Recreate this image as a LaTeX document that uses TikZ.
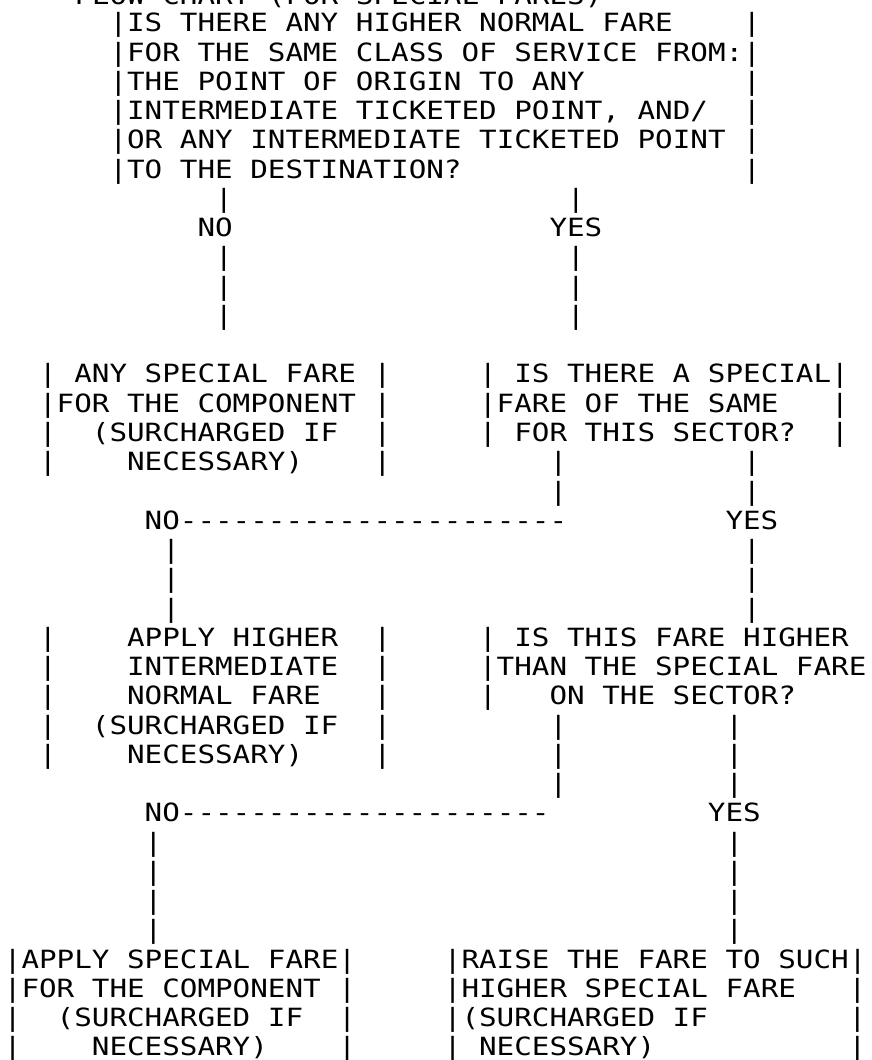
\documentclass[tikz,border=0pt]{standalone}
\usepackage{fontspec}
\setmonofont{DejaVu Sans Mono}[FakeStretch=1.165]
\newcommand\asciiseg[4]{\node[txt] (#1) at ({3.9+17.6*#3},{-(31.85+29.26*(#2-1))}) {#4};}
\newcommand\asciifont{\ttfamily\fontsize{25.1}{29.26}\selectfont\spaceskip=\fontcharwd\font 65\relax}
\begin{document}
\begin{tikzpicture}[x=1pt,y=1pt,
  txt/.style={anchor=base west,inner sep=0pt,outer sep=0pt,text=black,font=\asciifont}]
\useasboundingbox (0,0) rectangle (871,-1060);
\fill[white] (0,0) rectangle (871,-1060);
\clip (0,0) rectangle (871,-1060);
% title (cut off at the top, as in the reference)
\node[txt] (t0) at ({3.9+17.6*4},-4.5) {FLOW CHART (FOR SPECIAL FARES)};
% first question box
\asciiseg{q1a}{1}{6}{|IS THERE ANY HIGHER NORMAL FARE}
\asciiseg{q1b}{1}{42}{|}
\asciiseg{q2a}{2}{6}{|FOR THE SAME CLASS OF SERVICE FROM:|}
\asciiseg{q3a}{3}{6}{|THE POINT OF ORIGIN TO ANY}
\asciiseg{q3b}{3}{42}{|}
\asciiseg{q4a}{4}{6}{|INTERMEDIATE TICKETED POINT, AND/}
\asciiseg{q4b}{4}{42}{|}
\asciiseg{q5a}{5}{6}{|OR ANY INTERMEDIATE TICKETED POINT}
\asciiseg{q5b}{5}{42}{|}
\asciiseg{q6a}{6}{6}{|TO THE DESTINATION?}
\asciiseg{q6b}{6}{42}{|}
% branches
\asciiseg{c7a}{7}{12}{|}
\asciiseg{c7b}{7}{32}{|}
\asciiseg{no1}{8}{11}{NO}
\asciiseg{yes1}{8}{31}{YES}
\asciiseg{c9a}{9}{12}{|}
\asciiseg{c9b}{9}{32}{|}
\asciiseg{c10a}{10}{12}{|}
\asciiseg{c10b}{10}{32}{|}
\asciiseg{c11a}{11}{12}{|}
\asciiseg{c11b}{11}{32}{|}
% second level boxes
\asciiseg{a13}{13}{2}{| ANY SPECIAL FARE |}
\asciiseg{b13}{13}{27}{| IS THERE A SPECIAL|}
\asciiseg{a14}{14}{2}{|FOR THE COMPONENT |}
\asciiseg{b14}{14}{27}{|FARE OF THE SAME}
\asciiseg{b14r}{14}{47}{|}
\asciiseg{a15l}{15}{2}{|}
\asciiseg{a15}{15}{5}{(SURCHARGED IF}
\asciiseg{a15r}{15}{21}{|}
\asciiseg{b15}{15}{27}{| FOR THIS SECTOR?}
\asciiseg{b15r}{15}{47}{|}
\asciiseg{a16l}{16}{2}{|}
\asciiseg{a16}{16}{7}{NECESSARY)}
\asciiseg{a16r}{16}{21}{|}
\asciiseg{c16a}{16}{31}{|}
\asciiseg{c16b}{16}{42}{|}
\asciiseg{c17a}{17}{31}{|}
\asciiseg{c17b}{17}{42}{|}
\asciiseg{no2}{18}{8}{NO----------------------}
\asciiseg{yes2}{18}{41}{YES}
\asciiseg{c19a}{19}{9}{|}
\asciiseg{c19b}{19}{42}{|}
\asciiseg{c20a}{20}{9}{|}
\asciiseg{c20b}{20}{42}{|}
\asciiseg{c21a}{21}{9}{|}
\asciiseg{c21b}{21}{42}{|}
% third level boxes
\asciiseg{d22l}{22}{2}{|}
\asciiseg{d22}{22}{7}{APPLY HIGHER}
\asciiseg{d22r}{22}{21}{|}
\asciiseg{e22}{22}{27}{| IS THIS FARE HIGHER}
\asciiseg{d23l}{23}{2}{|}
\asciiseg{d23}{23}{7}{INTERMEDIATE}
\asciiseg{d23r}{23}{21}{|}
\asciiseg{e23}{23}{27}{|THAN THE SPECIAL FARE}
\asciiseg{d24l}{24}{2}{|}
\asciiseg{d24}{24}{7}{NORMAL FARE}
\asciiseg{d24r}{24}{21}{|}
\asciiseg{e24l}{24}{27}{|}
\asciiseg{e24}{24}{31}{ON THE SECTOR?}
\asciiseg{d25l}{25}{2}{|}
\asciiseg{d25}{25}{5}{(SURCHARGED IF}
\asciiseg{d25r}{25}{21}{|}
\asciiseg{c25a}{25}{31}{|}
\asciiseg{c25b}{25}{41}{|}
\asciiseg{d26l}{26}{2}{|}
\asciiseg{d26}{26}{7}{NECESSARY)}
\asciiseg{d26r}{26}{21}{|}
\asciiseg{c26a}{26}{31}{|}
\asciiseg{c26b}{26}{41}{|}
\asciiseg{c27a}{27}{31}{|}
\asciiseg{c27b}{27}{41}{|}
\asciiseg{no3}{28}{8}{NO---------------------}
\asciiseg{yes3}{28}{40}{YES}
\asciiseg{c29a}{29}{8}{|}
\asciiseg{c29b}{29}{41}{|}
\asciiseg{c30a}{30}{8}{|}
\asciiseg{c30b}{30}{41}{|}
\asciiseg{c31a}{31}{8}{|}
\asciiseg{c31b}{31}{41}{|}
\asciiseg{c32a}{32}{8}{|}
\asciiseg{c32b}{32}{41}{|}
% final boxes
\asciiseg{f33}{33}{0}{|APPLY SPECIAL FARE|}
\asciiseg{g33}{33}{25}{|RAISE THE FARE TO SUCH|}
\asciiseg{f34}{34}{0}{|FOR THE COMPONENT |}
\asciiseg{g34}{34}{25}{|HIGHER SPECIAL FARE}
\asciiseg{g34r}{34}{48}{|}
\asciiseg{f35l}{35}{0}{|}
\asciiseg{f35}{35}{3}{(SURCHARGED IF}
\asciiseg{f35r}{35}{19}{|}
\asciiseg{g35}{35}{25}{|(SURCHARGED IF}
\asciiseg{g35r}{35}{48}{|}
\asciiseg{f36l}{36}{0}{|}
\asciiseg{f36}{36}{5}{NECESSARY)}
\asciiseg{f36r}{36}{19}{|}
\asciiseg{g36}{36}{25}{| NECESSARY)}
\asciiseg{g36r}{36}{48}{|}
\end{tikzpicture}
\end{document}
